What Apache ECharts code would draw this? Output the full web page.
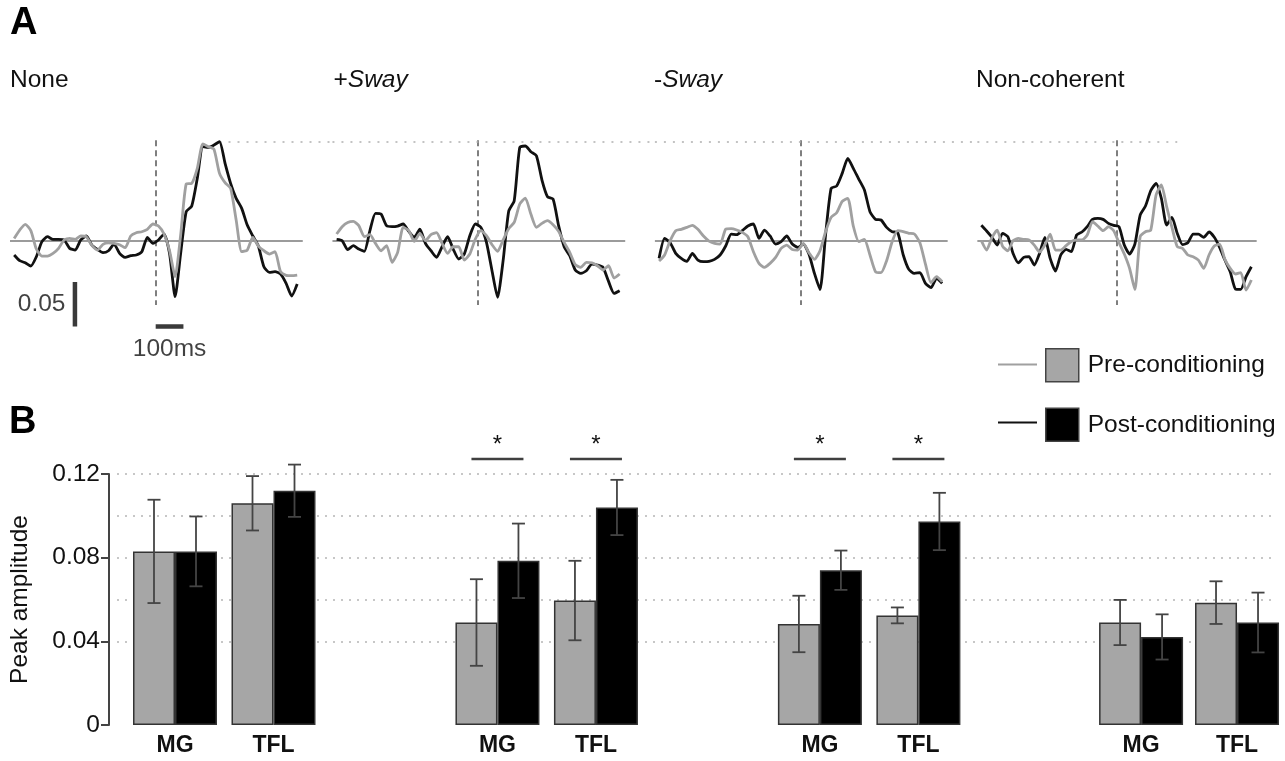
<!DOCTYPE html>
<html>
<head>
<meta charset="utf-8">
<script src="https://cdn.jsdelivr.net/npm/echarts@6/dist/echarts.min.js"></script>
<style>
html,body{margin:0;padding:0;background:#ffffff;}
#chart{width:1285px;height:761px;}
</style>
</head>
<body>
<div id="chart"></div>
<script>
// ---------------- DATA ----------------
const conditions = ['None', '+Sway', '-Sway', 'Non-coherent'];
const muscles = ['MG', 'TFL'];
const seriesNames = ['Pre-conditioning', 'Post-conditioning'];

// Panel B: peak amplitude (mean and error) per condition, [MG, TFL]
const preMean  = [[0.083, 0.106], [0.049, 0.0595], [0.0483, 0.0524], [0.049, 0.0585]];
const preErr   = [[0.0247, 0.013], [0.0207, 0.019], [0.0135, 0.0038], [0.0108, 0.0102]];
const postMean = [[0.083, 0.112], [0.0785, 0.104], [0.074, 0.0973], [0.0421, 0.049]];
const postErr  = [[0.0167, 0.0125], [0.0178, 0.0132], [0.0094, 0.0137], [0.0108, 0.0143]];
const significant = [[false, false], [true, true], [true, true], [false, false]];
const yTickLabelsB = ['0', '0.04', '0.08', '0.12'];

// Panel A: averaged traces (time in ms relative to perturbation)
const timeMs = [-510,-490,-470,-450,-430,-410,-390,-370,-350,-330,-310,-290,-270,-250,-230,-210,-190,-170,-150,-130,-110,-90,-70,-50,-30,-10,10,30,50,70,90,110,130,150,170,190,210,230,250,270,290,310,330,350,370,390,410,430,450,470,490,510];

const nonePost = [-0.0161,-0.0225,-0.0248,-0.0285,-0.018,-0.001,0.0045,0.0015,0.0015,0.0008,
  -0.0086,-0.0105,0.0008,0.0053,-0.0049,-0.0098,-0.0135,-0.0113,-0.0038,-0.0143,
  -0.0188,-0.0169,-0.0161,-0.0124,0.0038,-0.003,0.0008,0.0075,-0.0143,-0.063,
  -0.0143,0.0327,0.039,0.0702,0.1059,0.1051,0.1077,0.1115,0.0871,0.0646,
  0.0477,0.0364,0.0176,0.0053,-0.006,-0.0293,-0.0357,-0.0349,-0.0375,-0.048,
  -0.0623,-0.0488];
const nonePre = [0.0026,0.012,0.0184,0.0113,-0.0094,-0.0173,-0.0173,-0.0143,-0.0086,0.0008,
  0.0026,0.0015,0.0053,0.0045,-0.0053,-0.0105,-0.0041,-0.0023,-0.003,-0.0045,
  -0.0079,0.0053,0.009,0.0101,0.0128,0.0188,0.0165,0.0075,-0.0113,-0.0405,
  0.0064,0.0638,0.0646,0.0815,0.1089,0.1059,0.1029,0.0758,0.0653,0.0589,
  0.0233,-0.0124,-0.0105,0.0038,-0.006,-0.0113,-0.015,-0.0124,-0.0349,-0.039,
  -0.0394,-0.0387];
const swayPlusPost = [0.0015,0,-0.0101,-0.0056,-0.0094,-0.012,0.0113,0.0308,0.03,0.0169,
  0.0158,0.0165,0.0188,0.0105,0.0038,0.0131,-0.003,-0.0113,-0.0188,-0.0068,
  0.0045,-0.0094,-0.0206,-0.015,0.0056,0.0188,0.015,-0.0019,-0.0338,-0.0638,
  -0.0225,0.033,0.045,0.105,0.1066,0.1002,0.0957,0.0683,0.0495,0.0469,
  0.0169,-0.0068,-0.0169,-0.033,-0.0368,-0.0338,-0.0263,-0.0274,-0.03,-0.0458,
  -0.0593,-0.0563];
const swayPlusPre = [0.0075,0.0158,0.0206,0.0218,0.0169,0.0045,0.0068,-0.003,-0.0113,-0.0056,
  -0.0244,-0.0131,0.015,0.0113,-0.0008,0.0083,0,0.0068,0.009,-0.003,
  -0.0143,-0.0068,-0.0068,-0.0218,-0.015,0.0019,0.0113,0.0056,-0.0045,-0.012,
  0.0008,0.0135,0.0206,0.0413,0.048,0.03,0.015,0.0195,0.0225,0.018,
  0.0105,-0.0019,-0.0131,-0.027,-0.03,-0.0244,-0.0248,-0.0282,-0.033,-0.0282,
  -0.042,-0.0375];
const swayMinusPost = [-0.0199,0.0026,-0.0023,-0.0143,-0.0199,-0.0233,-0.0143,-0.0218,-0.0236,-0.0233,
  -0.021,-0.0161,-0.006,0.0075,0.0068,0.0113,0.0165,0.0188,0.0026,0.012,
  0.0053,-0.0038,-0.0011,0.0053,-0.0038,-0.0075,-0.0038,-0.015,-0.0368,-0.055,
  0.0064,0.0589,0.0616,0.0758,0.0927,0.0815,0.0691,0.0571,0.0327,0.024,
  0.0233,0.015,0.0101,0.009,-0.0161,-0.0323,-0.0368,-0.036,-0.048,-0.0529,
  -0.0424,-0.048];
const swayMinusPre = [-0.0229,-0.0161,0,0.0113,0.0128,0.015,0.0173,0.0128,0.0053,-0.0004,
  -0.003,-0.0038,0.0128,0.0135,0.012,0.0094,0.0045,-0.0124,-0.0255,-0.03,
  -0.0255,-0.0188,-0.0086,-0.0049,-0.0098,-0.0105,-0.003,-0.0135,-0.021,-0.0113,
  0.0101,0.0263,0.0315,0.0443,0.0477,0.0165,-0.0011,0.0015,-0.0161,-0.0349,
  -0.036,-0.0225,-0.0011,0.0113,0.0101,0.0083,0.0075,-0.0023,-0.0263,-0.0473,
  -0.0405,-0.0462];
const nonCohPost = [0.0173,0.0109,0.0038,-0.0049,0.0083,0.0045,-0.0143,-0.0248,-0.0188,-0.018,
  -0.0274,-0.0143,0.0038,-0.0199,-0.0342,-0.0161,-0.0098,-0.0124,0.0064,0.0098,
  0.0158,0.024,0.0252,0.024,0.0195,0.0173,0.0158,-0.0049,-0.015,-0.0038,
  0.0289,0.039,0.0563,0.0646,0.0477,0.0176,0.0263,0.0083,-0.0045,-0.0023,
  0.0075,0.0075,0.0038,0.0098,0.0038,-0.0075,-0.0218,-0.0349,-0.0544,-0.0548,
  -0.0405,-0.0293];
const nonCohPre = [0,-0.0105,0.0034,0.012,-0.006,-0.0113,0,0.0026,0.0015,0.0008,
  -0.0049,-0.0128,-0.0049,0.0075,-0.0105,-0.0105,-0.0056,-0.0008,0.0008,0.0008,
  0.0064,0.0214,0.0165,0.0113,0.0158,0.0113,-0.0023,-0.015,-0.0312,-0.055,
  0.0045,0.0101,0.012,0.0514,0.0627,0.0383,0.015,-0.0068,-0.0086,-0.0161,
  -0.018,-0.0218,-0.0312,-0.0161,-0.006,-0.0038,-0.021,-0.0312,-0.0375,-0.036,
  -0.0556,-0.0443];

const scaleAmp = 0.05;
const scaleTimeMs = 100;

// ---------------- STYLE / LAYOUT ----------------
const FONT = '"Liberation Sans", Arial, Helvetica, sans-serif';
const TXT = '#111111';
const PRE_LINE = '#a0a0a0', POST_LINE = '#111111';
const PRE_BAR = '#a6a6a6', POST_BAR = '#000000';
const PITCH = 322.45;
const T_MIN = -525, T_MAX = 637, BASE_T1 = 530;
const DASH_TOP = 0.113, DASH_BOTTOM = -0.0724;
const SCALE_T = -291, SCALE_Y = -0.0965;
const BAR_W = 42, CAP = 6.5, SIG_LEVEL = 0.1272, SIG_HALF = 26;
const SMOOTH = 0.2;
const TRACE_W = 2.8;

const preTraces = [nonePre, swayPlusPre, swayMinusPre, nonCohPre];
const postTraces = [nonePost, swayPlusPost, swayMinusPost, nonCohPost];
const zip = arr => timeMs.map((t, i) => [t, arr[i]]);
const peakVal = Math.max(...nonePost);
const peakT = timeMs[nonePost.indexOf(peakVal)];

const grid = [], xAxis = [], yAxis = [], series = [], title = [];

title.push({text: 'A', left: 10, top: 5, padding: 0,
  textStyle: {fontSize: 38, fontWeight: 'bold', color: '#000', fontFamily: FONT}});
title.push({text: 'B', left: 9, top: 404, padding: 0,
  textStyle: {fontSize: 38, fontWeight: 'bold', color: '#000', fontFamily: FONT}});

// trace panels
for (let k = 0; k < 4; k++) {
  grid.push({left: 10 + k * PITCH, top: 134.1, width: PITCH, height: 213.2});
  xAxis.push({type: 'value', gridIndex: k, min: T_MIN, max: T_MAX, show: false});
  yAxis.push({type: 'value', gridIndex: k, min: -0.12, max: 0.12, show: false});
  title.push({
    text: conditions[k].replace('Sway', '{i|Sway}'),
    left: [10, 333.5, 654, 976][k], top: 67.5, padding: 0,
    textStyle: {fontSize: 24.5, fontWeight: 'normal', color: TXT, fontFamily: FONT,
      rich: {i: {fontSize: 24.5, fontStyle: 'italic', color: TXT, fontFamily: FONT}}}
  });
  series.push({
    type: 'line', name: seriesNames[1], xAxisIndex: k, yAxisIndex: k,
    data: zip(postTraces[k]), symbol: 'none', smooth: SMOOTH, silent: true, z: 3,
    itemStyle: {color: POST_LINE}, lineStyle: {color: POST_LINE, width: TRACE_W},
    markLine: {
      silent: true, symbol: 'none', animation: false, z: 1, label: {show: false},
      data: [
        [{coord: [T_MIN, 0], lineStyle: {color: '#7a7a7a', width: 1.6, type: 'solid'}}, {coord: [BASE_T1, 0]}],
        [{coord: [0, DASH_TOP], lineStyle: {color: '#555555', width: 1.5, type: [6, 4]}}, {coord: [0, DASH_BOTTOM]}],
        [{coord: [k === 0 ? peakT : T_MIN, peakVal], lineStyle: {color: '#b0b0b0', width: 1.6, type: [2, 7]}},
         {coord: [k === 3 ? peakT : T_MAX, peakVal]}]
      ]
    }
  });
  series.push({
    type: 'line', name: seriesNames[0], xAxisIndex: k, yAxisIndex: k,
    data: zip(preTraces[k]), symbol: 'none', smooth: SMOOTH, silent: true, z: 4,
    itemStyle: {color: PRE_LINE}, lineStyle: {color: PRE_LINE, width: TRACE_W}
  });
}

// scale bars in first trace panel
series.push({type: 'line', xAxisIndex: 0, yAxisIndex: 0, silent: true, symbol: 'none', z: 5,
  data: [[SCALE_T, SCALE_Y], [SCALE_T, SCALE_Y + scaleAmp]], lineStyle: {color: '#3a3a3a', width: 4.5}});
series.push({type: 'line', xAxisIndex: 0, yAxisIndex: 0, silent: true, symbol: 'none', z: 5,
  data: [[0, SCALE_Y], [scaleTimeMs, SCALE_Y]], lineStyle: {color: '#3a3a3a', width: 4.5}});
series.push({type: 'scatter', xAxisIndex: 0, yAxisIndex: 0, silent: true, symbolSize: 1,
  itemStyle: {color: 'rgba(0,0,0,0)'},
  label: {show: true, fontSize: 24.5, color: TXT, fontFamily: FONT},
  data: [
    {value: [SCALE_T, SCALE_Y + scaleAmp / 2], label: {position: 'left', distance: 9, formatter: String(scaleAmp)}},
    {value: [scaleTimeMs / 2, SCALE_Y], label: {position: 'bottom', distance: 10, formatter: scaleTimeMs + 'ms'}}
  ]});

// bar panels
function errRender(params, api) {
  const c = api.value(0), m = api.value(1), e = api.value(2), side = api.value(3);
  const top = api.coord([c, m + e]);
  const bot = api.coord([c, m - e]);
  const x = top[0] + side * BAR_W / 2;
  const st = {stroke: '#444444', lineWidth: 1.8};
  return {type: 'group', children: [
    {type: 'line', shape: {x1: x, y1: top[1], x2: x, y2: bot[1]}, style: st},
    {type: 'line', shape: {x1: x - CAP, y1: top[1], x2: x + CAP, y2: top[1]}, style: st},
    {type: 'line', shape: {x1: x - CAP, y1: bot[1], x2: x + CAP, y2: bot[1]}, style: st}
  ]};
}
function sigRender(params, api) {
  const p = api.coord([api.value(0), api.value(1)]);
  return {type: 'group', children: [
    {type: 'line', shape: {x1: p[0] - SIG_HALF, y1: p[1], x2: p[0] + SIG_HALF, y2: p[1]},
      style: {stroke: '#404040', lineWidth: 2.6}},
    {type: 'text', x: p[0], y: p[1] - 14,
      style: {text: '*', fontSize: 24, fontFamily: FONT, fill: '#111', align: 'center', verticalAlign: 'middle'}}
  ]};
}

for (let k = 0; k < 4; k++) {
  const gi = 4 + k;
  grid.push({left: 125.75 + k * PITCH, top: 474, width: 197, height: 251});
  xAxis.push({type: 'category', gridIndex: gi, data: muscles,
    axisLine: {show: false}, axisTick: {show: false}, splitLine: {show: false},
    axisLabel: {fontSize: 23, fontWeight: 'bold', color: TXT, fontFamily: FONT, margin: 9}});
  if (k === 0) {
    yAxis.push({type: 'value', gridIndex: gi, min: 0, max: 0.12, interval: 0.04, offset: 16.75,
      axisLine: {show: true, lineStyle: {color: '#444', width: 2}},
      axisTick: {show: true, length: 8, lineStyle: {color: '#444', width: 2}},
      axisLabel: {fontSize: 24.5, color: TXT, fontFamily: FONT, margin: 9,
        formatter: (v, i) => yTickLabelsB[i]},
      splitLine: {show: false},
      name: 'Peak amplitude', nameLocation: 'middle', nameGap: 76, nameRotate: 90,
      nameTextStyle: {fontSize: 24.5, color: TXT, fontFamily: FONT}});
  } else {
    yAxis.push({type: 'value', gridIndex: gi, min: 0, max: 0.12, show: false, splitLine: {show: false}});
  }
  series.push({type: 'bar', name: seriesNames[0], xAxisIndex: gi, yAxisIndex: gi, data: preMean[k],
    barWidth: BAR_W, barGap: '0%', silent: true, z: 2,
    itemStyle: {color: PRE_BAR, borderColor: '#333', borderWidth: 1.5}});
  series.push({type: 'bar', name: seriesNames[1], xAxisIndex: gi, yAxisIndex: gi, data: postMean[k],
    barWidth: BAR_W, barGap: '0%', silent: true, z: 2,
    itemStyle: {color: POST_BAR, borderColor: '#333', borderWidth: 1.5}});
  const errData = [];
  for (let i = 0; i < 2; i++) {
    errData.push([i, preMean[k][i], preErr[k][i], -1]);
    errData.push([i, postMean[k][i], postErr[k][i], 1]);
  }
  series.push({type: 'custom', xAxisIndex: gi, yAxisIndex: gi, silent: true, z: 6,
    data: errData, encode: {x: 0, y: 1}, renderItem: errRender});
  const sigData = [];
  for (let i = 0; i < 2; i++) if (significant[k][i]) sigData.push([i, SIG_LEVEL]);
  if (sigData.length) {
    series.push({type: 'custom', xAxisIndex: gi, yAxisIndex: gi, silent: true, z: 6, clip: false,
      data: sigData, encode: {x: 0, y: 1}, renderItem: sigRender});
  }
}

// dotted reference lines behind bars
grid.push({left: 117, top: 474, width: 1158, height: 167.3});
xAxis.push({type: 'value', gridIndex: 8, min: 0, max: 1, show: false});
yAxis.push({type: 'value', gridIndex: 8, min: 0.04, max: 0.12, interval: 0.02,
  axisLine: {show: false}, axisTick: {show: false}, axisLabel: {show: false},
  splitLine: {show: true, lineStyle: {color: '#b5b5b5', width: 1.5, type: [2, 6]}}});

const option = {
  animation: false,
  backgroundColor: '#ffffff',
  textStyle: {fontFamily: FONT},
  title: title,
  legend: [
    {orient: 'vertical', left: 998, top: 348, padding: 0, itemWidth: 39, itemHeight: 33, itemGap: 25,
      selectedMode: false, formatter: () => '',
      icon: 'path://M0,0M39,33M0,15.6L39,15.6L39,17.6L0,17.6Z',
      itemStyle: {borderWidth: 0},
      data: [{name: seriesNames[0], itemStyle: {color: PRE_LINE, borderWidth: 0}},
             {name: seriesNames[1], itemStyle: {color: POST_LINE, borderWidth: 0}}]},
    {orient: 'vertical', left: 1045, top: 348, padding: 0, itemWidth: 33, itemHeight: 33, itemGap: 25,
      selectedMode: false, icon: 'rect',
      textStyle: {fontSize: 24.5, color: TXT, fontFamily: FONT, padding: [0, 0, 0, 4]},
      data: [{name: seriesNames[0], itemStyle: {color: PRE_BAR, borderColor: '#444', borderWidth: 1.5}},
             {name: seriesNames[1], itemStyle: {color: POST_BAR, borderColor: '#444', borderWidth: 1.5}}]}
  ],
  grid: grid,
  xAxis: xAxis,
  yAxis: yAxis,
  series: series
};

const chart = echarts.init(document.getElementById('chart'), null, {renderer: 'canvas'});
chart.setOption(option);
</script>
</body>
</html>
